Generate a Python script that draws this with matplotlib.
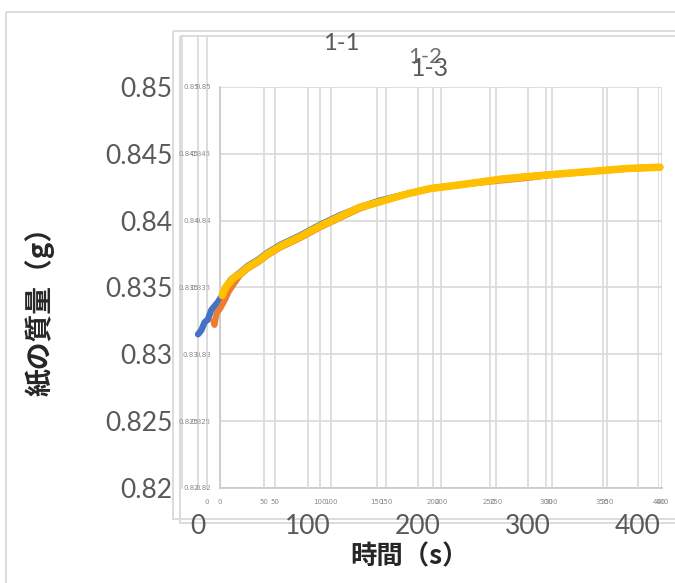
import matplotlib
matplotlib.use("Agg")
import matplotlib.pyplot as plt
from matplotlib.patches import Rectangle

# ---------------- data ----------------
t_11 = [0, 3, 6, 9, 12, 15, 18, 22, 26, 30, 38, 45, 55, 63, 75, 93, 111, 129, 147, 165, 190, 211, 240, 275, 300, 329, 360, 390, 420]
m_11 = [0.8315, 0.8318, 0.8324, 0.8326, 0.8333, 0.8336, 0.8339, 0.8344, 0.8351, 0.8356, 0.8361, 0.8366, 0.8371, 0.8376, 0.8382,
        0.8389, 0.8397, 0.8404, 0.8410, 0.8415, 0.8420, 0.8424, 0.8427, 0.8431, 0.8433, 0.8435, 0.8437, 0.8439, 0.8440]

t_12 = [14, 15, 17, 20, 24, 28, 32, 38, 45, 55, 63, 75, 93, 111, 129, 147, 165, 190, 211, 240, 275, 300, 329, 360, 390, 420]
m_12 = [0.8325, 0.8322, 0.8331, 0.8334, 0.8340, 0.8347, 0.8352, 0.8359, 0.8364, 0.8369, 0.8374, 0.8380,
        0.8387, 0.8395, 0.8402, 0.8409, 0.8414, 0.8420, 0.8424, 0.8427, 0.8430, 0.8432, 0.8435, 0.8437, 0.8439, 0.8440]

t_13 = [22, 25, 28, 32, 38, 45, 55, 63, 75, 93, 111, 129, 147, 165, 190, 211, 240, 275, 300, 329, 360, 390, 420]
m_13 = [0.8344, 0.8350, 0.8353, 0.8357, 0.8360, 0.8365, 0.8370, 0.8375, 0.8381, 0.8388, 0.8396, 0.8403, 0.8410, 0.8414,
        0.8420, 0.8424, 0.8427, 0.8431, 0.8433, 0.8435, 0.8437, 0.8439, 0.8440]

series_names = ["1-1", "1-2", "1-3"]
series_colors = ["#4472C4", "#ED7D31", "#FFC000"]

y_ticks = [0.82, 0.825, 0.83, 0.835, 0.84, 0.845, 0.85]
y_labels = ["0.82", "0.825", "0.83", "0.835", "0.84", "0.845", "0.85"]
big_x_ticks = [0, 100, 200, 300, 400]
small_x_ticks = [0, 50, 100, 150, 200, 250, 300, 350, 400]

y_title = "紙の質量（g）"
x_title = "時間（s）"

# ---------------- layout helpers ----------------
W, H = 675, 583
fig = plt.figure(figsize=(W / 100, H / 100), dpi=100)
fig.patch.set_facecolor("white")


def rect(x0, y0, x1, y1):
    return [x0 / W, 1 - y1 / H, (x1 - x0) / W, (y1 - y0) / H]


GRID = "#d9d9d9"
FRAME = "#dcdcdc"
SMALL = "#8a8a8a"
BIG = "#595959"

# background: chart frames
bg = fig.add_axes([0, 0, 1, 1], zorder=0)
bg.set_xlim(0, W)
bg.set_ylim(H, 0)
bg.axis("off")
for (x0, y0, x1, y1) in [(6, 12, 720, 600), (173, 31, 720, 519), (180, 36, 720, 523)]:
    bg.add_patch(Rectangle((x0, y0), x1 - x0, y1 - y0, fill=False, edgecolor=FRAME, lw=1.4))
for xv in [182, 198, 207]:
    bg.plot([xv, xv], [36, 488], color=GRID, lw=1.2)

ylim = (0.82, 0.85)

# axes A (inner small chart)
axA = fig.add_axes(rect(220, 87, 662, 488), zorder=1)
axA.set_facecolor("none")
axA.set_xlim(0, 400)
axA.set_ylim(*ylim)
axA.set_xticks(small_x_ticks)
axA.set_xticklabels([str(v) for v in small_x_ticks])
axA.set_yticks(y_ticks)
axA.set_yticklabels(y_labels)
axA.tick_params(axis="x", length=0, labelsize=5, labelcolor=SMALL, pad=8)
axA.tick_params(axis="y", length=0, labelsize=5, labelcolor=SMALL, pad=6.5)
axA.grid(True, color=GRID, lw=1.2)
for s in ["top", "right"]:
    axA.spines[s].set_visible(False)
for s in ["left", "bottom"]:
    axA.spines[s].set_color("#c8c8c8")
    axA.spines[s].set_linewidth(1.2)

# axes B (second, shifted chart)
axB = fig.add_axes(rect(207, 87, 659, 488), zorder=1)
axB.set_facecolor("none")
axB.set_xlim(0, 400)
axB.set_ylim(*ylim)
axB.set_xticks(small_x_ticks)
axB.set_xticklabels([str(v) for v in small_x_ticks])
axB.set_yticks(y_ticks)
axB.set_yticklabels(y_labels)
axB.tick_params(axis="x", length=0, labelsize=5, labelcolor=SMALL, pad=8)
axB.tick_params(axis="y", length=0, labelsize=5, labelcolor=SMALL, pad=6)
axB.grid(True, axis="x", color=GRID, lw=1.2)
for s in axB.spines.values():
    s.set_visible(False)

# axes C (big chart with data)
axC = fig.add_axes(rect(198, 87, 662, 488), zorder=2)
axC.set_facecolor("none")
axC.set_xlim(0, (662 - 198) / 1.1)
axC.set_ylim(*ylim)
axC.set_xticks(big_x_ticks)
axC.set_xticklabels([str(v) for v in big_x_ticks])
axC.set_yticks(y_ticks)
axC.set_yticklabels(y_labels)
axC.tick_params(axis="x", length=0, labelsize=19, labelcolor=BIG, pad=19)
axC.tick_params(axis="y", length=0, labelsize=19, labelcolor=BIG, pad=18.5)
for lab in axC.get_xticklabels() + axC.get_yticklabels():
    lab.set_fontfamily("Lato")
axC.grid(True, axis="x", color=GRID, lw=1.2)
for s in axC.spines.values():
    s.set_visible(False)

axC.plot(t_11, m_11, color=series_colors[0], lw=4.6, solid_capstyle="round", clip_on=False, zorder=3)
axC.plot(t_12, m_12, color=series_colors[1], lw=4.4, solid_capstyle="round", clip_on=False, zorder=4)
axC.plot(t_13, m_13, color=series_colors[2], lw=5.4, solid_capstyle="round", clip_on=False, zorder=5)

# series titles (overlapping chart titles)
fig.text(341 / W, 1 - 43 / H, series_names[0], fontsize=17, color=BIG, ha="center", va="center", family="Lato")
fig.text(425 / W, 1 - 57 / H, series_names[1], fontsize=16, color="#707070", ha="center", va="center", family="Lato")
fig.text(430 / W, 1 - 69 / H, series_names[2], fontsize=18, color=BIG, ha="center", va="center", family="Lato")

# axis titles
fig.text(40 / W, 1 - 304 / H, y_title, rotation=90, fontsize=20, fontweight="bold", color="#262626",
         ha="center", va="center", family=["Noto Sans CJK JP", "DejaVu Sans"])
fig.text(410 / W, 1 - 557 / H, x_title, fontsize=19, fontweight="bold", color="#262626",
         ha="center", va="center", family=["Noto Sans CJK JP", "DejaVu Sans"])

fig.savefig("out.png", dpi=100, facecolor="white")
